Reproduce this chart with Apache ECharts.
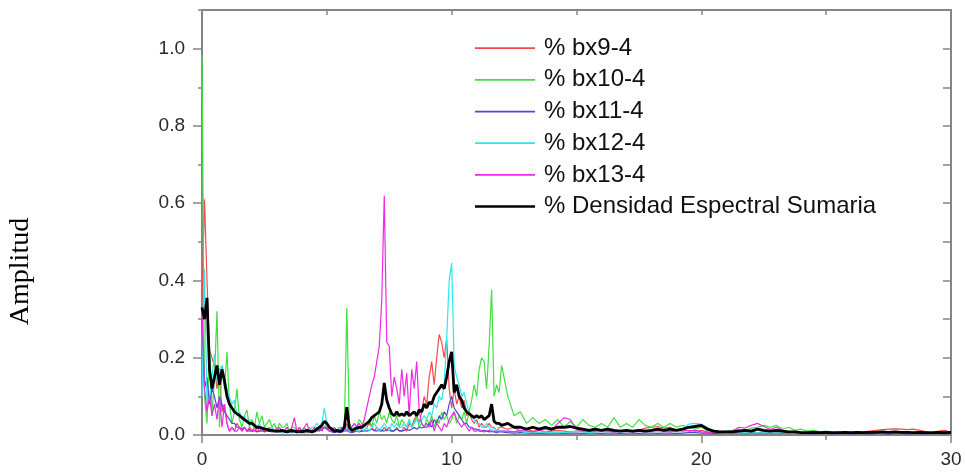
<!DOCTYPE html>
<html><head><meta charset="utf-8">
<script src="https://cdn.jsdelivr.net/npm/echarts@6/dist/echarts.min.js"></script>
<style>html,body{margin:0;padding:0;background:#fff}#c{width:965px;height:474px}</style>
</head><body><div id="c"></div>
<script>
// Frequency sample positions: 0..12 step 0.1, then 12.25..30 step 0.25
const freqA = Array.from({length:121},(_,i)=>+(i*0.1).toFixed(1));
const freqB = Array.from({length:72},(_,i)=>12.25+i*0.25);

const seriesNames = ['% bx9-4','% bx10-4','% bx11-4','% bx12-4','% bx13-4','% Densidad Espectral Sumaria'];
const yTickLabels = [0,0.2,0.4,0.6,0.8,1.0];
const xTickLabels = [0,10,20,30];

// bx9-4 (red)
const bx9A = [
.35,.61,.4,.22,.2,.18,.12,.15,.06,.08,
.03,.01,.02,.01,.03,.02,.01,.02,.01,.02,
.01,.02,.01,.01,.02,.01,.01,.02,.01,.01,
.02,.01,.01,.01,.02,.01,.01,.01,.01,.01,
.01,.01,.005,.01,.01,.01,.02,.01,.02,.02,
.02,.01,.01,.01,.01,.01,.01,.01,.03,.01,
.01,.01,.01,.02,.01,.01,.02,.03,.02,.01,
.02,.01,.01,.02,.01,.02,.01,.01,.02,.01,
.01,.02,.01,.03,.02,.04,.05,.03,.06,.1,
.08,.15,.19,.13,.2,.26,.24,.2,.25,.12,
.07,.12,.08,.1,.07,.09,.05,.06,.04,.03,
.04,.02,.03,.02,.02,.03,.02,.02,.01,.02,
.02];
const bx9B = [
.015,.02,.01,.015,.01,.012,.008,.01,
.012,.01,.008,.01,.012,.008,.01,.012,
.01,.008,.01,.012,.01,.012,.018,.02,
.022,.018,.02,.012,.01,.012,.01,.012,
.008,.006,.008,.006,.005,.008,.006,.008,
.006,.008,.01,.006,.008,.006,.005,.006,
.005,.004,.005,.006,.005,.006,.005,.006,
.006,.008,.01,.012,.014,.015,.016,.015,
.014,.015,.012,.008,.005,.01,.012,.006];

// bx10-4 (green)
const bx10A = [
.98,.1,.03,.23,.05,.15,.32,.02,.18,.12,
.215,.08,.03,.06,.12,.04,.02,.05,.065,.02,
.04,.02,.06,.03,.05,.02,.03,.04,.02,.03,
.01,.03,.02,.02,.03,.01,.02,.02,.01,.02,
.01,.02,.01,.02,.01,.02,.01,.01,.02,.02,
.03,.02,.01,.02,.01,.02,.02,.01,.33,.03,
.02,.03,.02,.04,.03,.02,.03,.04,.02,.05,
.03,.06,.04,.05,.03,.06,.04,.03,.05,.02,
.04,.03,.02,.04,.02,.03,.05,.02,.03,.02,
.04,.03,.05,.02,.04,.03,.06,.04,.05,.03,
.04,.06,.03,.05,.04,.06,.03,.06,.09,.13,
.1,.17,.2,.19,.12,.23,.376,.1,.13,.11,
.18];
const bx10B = [
.1,.05,.06,.03,.045,.03,.04,.025,
.04,.02,.035,.02,.04,.025,.02,.03,
.02,.045,.02,.03,.02,.04,.025,.02,
.03,.02,.03,.02,.025,.02,.015,.02,
.012,.01,.008,.01,.012,.015,.01,.018,
.02,.025,.02,.025,.015,.02,.012,.015,
.01,.012,.008,.01,.006,.008,.006,.007,
.005,.006,.005,.006,.005,.006,.005,.006,
.005,.006,.005,.006,.005,.006,.005,.006];

// bx11-4 (blue)
const bx11A = [
.3,.12,.15,.08,.12,.1,.07,.1,.08,.06,
.05,.04,.03,.03,.02,.02,.015,.02,.01,.015,
.01,.012,.008,.01,.012,.008,.01,.01,.008,.01,
.008,.01,.006,.008,.01,.008,.006,.01,.008,.006,
.008,.006,.01,.008,.01,.012,.015,.012,.015,.02,
.015,.01,.008,.006,.008,.006,.008,.01,.012,.008,
.006,.008,.01,.008,.01,.012,.01,.012,.015,.012,
.01,.015,.012,.01,.015,.012,.01,.012,.015,.012,
.01,.012,.015,.012,.015,.02,.015,.02,.018,.02,
.02,.03,.02,.04,.03,.05,.04,.06,.05,.08,
.1,.07,.06,.05,.04,.03,.03,.02,.02,.015,
.015,.01,.01,.012,.01,.008,.01,.008,.006,.008,
.008];
const bx11B = [
.006,.005,.006,.005,.005,.004,.005,.005,
.005,.004,.005,.005,.004,.005,.005,.004,
.005,.005,.004,.005,.005,.004,.005,.005,
.004,.005,.005,.004,.005,.006,.006,.005,
.005,.004,.005,.004,.004,.005,.004,.005,
.004,.005,.004,.004,.005,.004,.004,.004,
.004,.003,.004,.004,.003,.004,.004,.003,
.004,.004,.003,.004,.004,.003,.004,.004,
.003,.004,.004,.003,.004,.004,.003,.004];

// bx12-4 (cyan)
const bx12A = [
.1,.43,.08,.1,.15,.21,.14,.17,.18,.15,
.12,.1,.08,.09,.05,.06,.04,.05,.03,.04,
.03,.02,.02,.03,.01,.02,.01,.01,.02,.01,
.01,.01,.005,.01,.01,.005,.01,.01,.005,.01,
.01,.005,.01,.01,.02,.02,.03,.02,.03,.07,
.03,.02,.02,.01,.01,.02,.01,.01,.02,.01,
.01,.02,.01,.01,.02,.01,.02,.01,.02,.03,
.02,.01,.02,.03,.02,.01,.03,.02,.03,.02,
.02,.03,.02,.04,.02,.03,.04,.03,.04,.05,
.04,.06,.05,.08,.07,.1,.09,.13,.25,.4,
.445,.18,.15,.13,.1,.11,.08,.06,.05,.04,
.03,.03,.02,.02,.03,.02,.01,.02,.01,.01,
.01];
const bx12B = [
.01,.008,.01,.006,.008,.006,.008,.006,
.008,.006,.008,.01,.008,.006,.008,.01,
.008,.01,.008,.01,.008,.012,.01,.012,
.01,.012,.01,.012,.015,.028,.03,.028,
.02,.008,.006,.005,.006,.005,.006,.005,
.006,.005,.006,.005,.006,.005,.004,.005,
.004,.005,.004,.005,.004,.005,.004,.005,
.004,.005,.004,.005,.004,.005,.004,.005,
.004,.005,.004,.005,.004,.005,.004,.005];

// bx13-4 (magenta)
const bx13A = [
.33,.12,.06,.1,.05,.08,.04,.1,.02,.08,
.03,.01,.02,.01,.01,.02,.01,.02,.01,.01,
.01,.01,.02,.01,.01,.02,.01,.01,.01,.01,
.01,.02,.01,.01,.02,.01,.02,.045,.01,.02,
.01,.02,.03,.01,.01,.02,.01,.02,.01,.02,
.02,.01,.01,.02,.01,.01,.02,.02,.01,.02,
.02,.03,.02,.03,.02,.04,.07,.1,.13,.15,
.19,.23,.35,.62,.24,.23,.1,.15,.12,.08,
.17,.1,.16,.05,.17,.12,.19,.06,.03,.02,
.03,.02,.04,.01,.03,.02,.01,.03,.02,.04,
.05,.06,.04,.03,.02,.03,.02,.01,.02,.01,
.01,.015,.01,.008,.01,.012,.008,.01,.008,.01,
.01];
const bx13B = [
.01,.008,.012,.01,.008,.012,.015,.012,
.03,.045,.04,.015,.01,.012,.01,.012,
.01,.008,.012,.01,.008,.01,.012,.01,
.012,.01,.008,.012,.015,.01,.012,.008,
.006,.008,.006,.008,.01,.02,.018,.025,
.03,.022,.015,.02,.012,.008,.006,.006,
.005,.005,.004,.005,.004,.005,.004,.005,
.004,.005,.004,.005,.004,.005,.004,.005,
.004,.005,.004,.005,.004,.005,.004,.005];

// Densidad Espectral Sumaria (black)
const sumA = [
.33,.3,.355,.17,.12,.15,.18,.13,.17,.14,
.1,.08,.07,.06,.055,.05,.045,.04,.035,.03,
.03,.025,.02,.02,.018,.015,.015,.012,.012,.01,
.01,.01,.012,.01,.008,.01,.012,.01,.008,.01,
.008,.01,.012,.01,.008,.01,.015,.02,.025,.035,
.03,.02,.015,.01,.012,.01,.01,.02,.072,.02,
.012,.015,.018,.02,.02,.025,.03,.035,.045,.05,
.055,.06,.08,.135,.09,.07,.055,.05,.06,.05,
.055,.05,.06,.05,.055,.06,.05,.065,.06,.08,
.07,.085,.08,.1,.11,.12,.13,.12,.15,.19,
.215,.11,.13,.1,.09,.07,.06,.055,.05,.045,
.05,.045,.05,.04,.045,.05,.08,.035,.03,.03,
.025];
const sumB = [
.03,.02,.02,.015,.02,.015,.02,.015,
.02,.02,.022,.018,.015,.012,.015,.012,
.015,.012,.01,.012,.01,.012,.01,.012,
.015,.012,.015,.012,.015,.02,.022,.025,
.015,.01,.008,.008,.008,.01,.012,.01,
.015,.012,.01,.012,.01,.008,.008,.006,
.006,.007,.006,.007,.006,.006,.007,.006,
.007,.006,.007,.007,.008,.007,.008,.007,
.007,.006,.007,.006,.006,.007,.006,.007];

const colors = ['#f24b4b','#3fe03f','#4a4ad6','#2fe6ef','#ee2ae8','#000000'];
const valuesA = [bx9A,bx10A,bx11A,bx12A,bx13A,sumA];
const valuesB = [bx9B,bx10B,bx11B,bx12B,bx13B,sumB];
const freq = freqA.concat(freqB);

const axisGrey = '#858585';
const sans = 'Arial, "Liberation Sans", sans-serif';
const chart = echarts.init(document.getElementById('c'), null, {renderer:'canvas'});
chart.setOption({
  animation:false,
  backgroundColor:'#fff',
  grid:{left:202,right:14,top:10,bottom:39,containLabel:false},
  legend:{
    orient:'vertical', left:475, top:36.2, padding:0,
    itemWidth:60, itemHeight:24, itemGap:7.67,
    data:seriesNames.map((n,k)=>({name:n, icon: k===5 ? 'path://M0,0H60V2.6H0Z' : 'path://M0,0H60V1.8H0Z'})),
    itemStyle:{borderWidth:0},
    textStyle:{fontFamily:sans, fontSize:24, color:'#111', padding:[0,0,0,4]}
  },
  xAxis:[
    {type:'value', min:0, max:30, interval:10, position:'bottom',
     axisLine:{show:true, onZero:false, lineStyle:{color:axisGrey,width:2}},
     axisTick:{show:true, length:8, lineStyle:{color:axisGrey,width:1.5}},
     minorTick:{show:true, splitNumber:2, length:5, lineStyle:{color:axisGrey,width:1.5}},
     splitLine:{show:false},
     axisLabel:{margin:15, fontSize:19, color:'#2a2a2a', fontFamily:sans,
       customValues:xTickLabels}},
    {type:'value', min:0, max:30, interval:5, position:'top',
     axisLine:{show:true, onZero:false, lineStyle:{color:axisGrey,width:2}},
     axisTick:{show:true, inside:true, length:5, lineStyle:{color:axisGrey,width:1.5}},
     splitLine:{show:false}, axisLabel:{show:false}}
  ],
  yAxis:[
    {type:'value', min:0, max:1.1, position:'left',
     axisLine:{show:true, onZero:false, lineStyle:{color:axisGrey,width:2}},
     axisTick:{show:true, length:9, customValues:yTickLabels, lineStyle:{color:axisGrey,width:1.5}},
     splitLine:{show:false},
     axisLabel:{margin:17, fontSize:19, color:'#2a2a2a', fontFamily:sans,
       customValues:yTickLabels, formatter:v=>Number(v).toFixed(1)}},
    {type:'value', min:0, max:1.1, interval:0.1, position:'left',
     axisLine:{show:false}, axisTick:{show:true, length:4, lineStyle:{color:axisGrey,width:1.5}},
     splitLine:{show:false}, axisLabel:{show:false}},
    {type:'value', min:0, max:1.1, interval:0.1, position:'right',
     axisLine:{show:true, onZero:false, lineStyle:{color:axisGrey,width:2}},
     axisTick:{show:true, inside:true, length:8, lineStyle:{color:axisGrey,width:1.5}},
     splitLine:{show:false}, axisLabel:{show:false}}
  ],
  graphic:[{
    type:'text', x:21, y:271.5, rotation:Math.PI/2,
    style:{text:'Amplitud', fontFamily:'"Times New Roman", "Liberation Serif", serif', fontSize:28,
      fill:'#000', textAlign:'center', textVerticalAlign:'middle'}
  }],
  series:seriesNames.map((name,k)=>({
    name:name, type:'line', xAxisIndex:0, yAxisIndex:0,
    symbol:'none', showSymbol:false,
    lineStyle:{color:colors[k], width:k===5?2.8:1.2},
    itemStyle:{color:colors[k]},
    z:k===5?5:2,
    data:freq.map((f,i)=>[f, i<freqA.length ? valuesA[k][i] : valuesB[k][i-freqA.length]])
  }))
});
</script></body></html>
